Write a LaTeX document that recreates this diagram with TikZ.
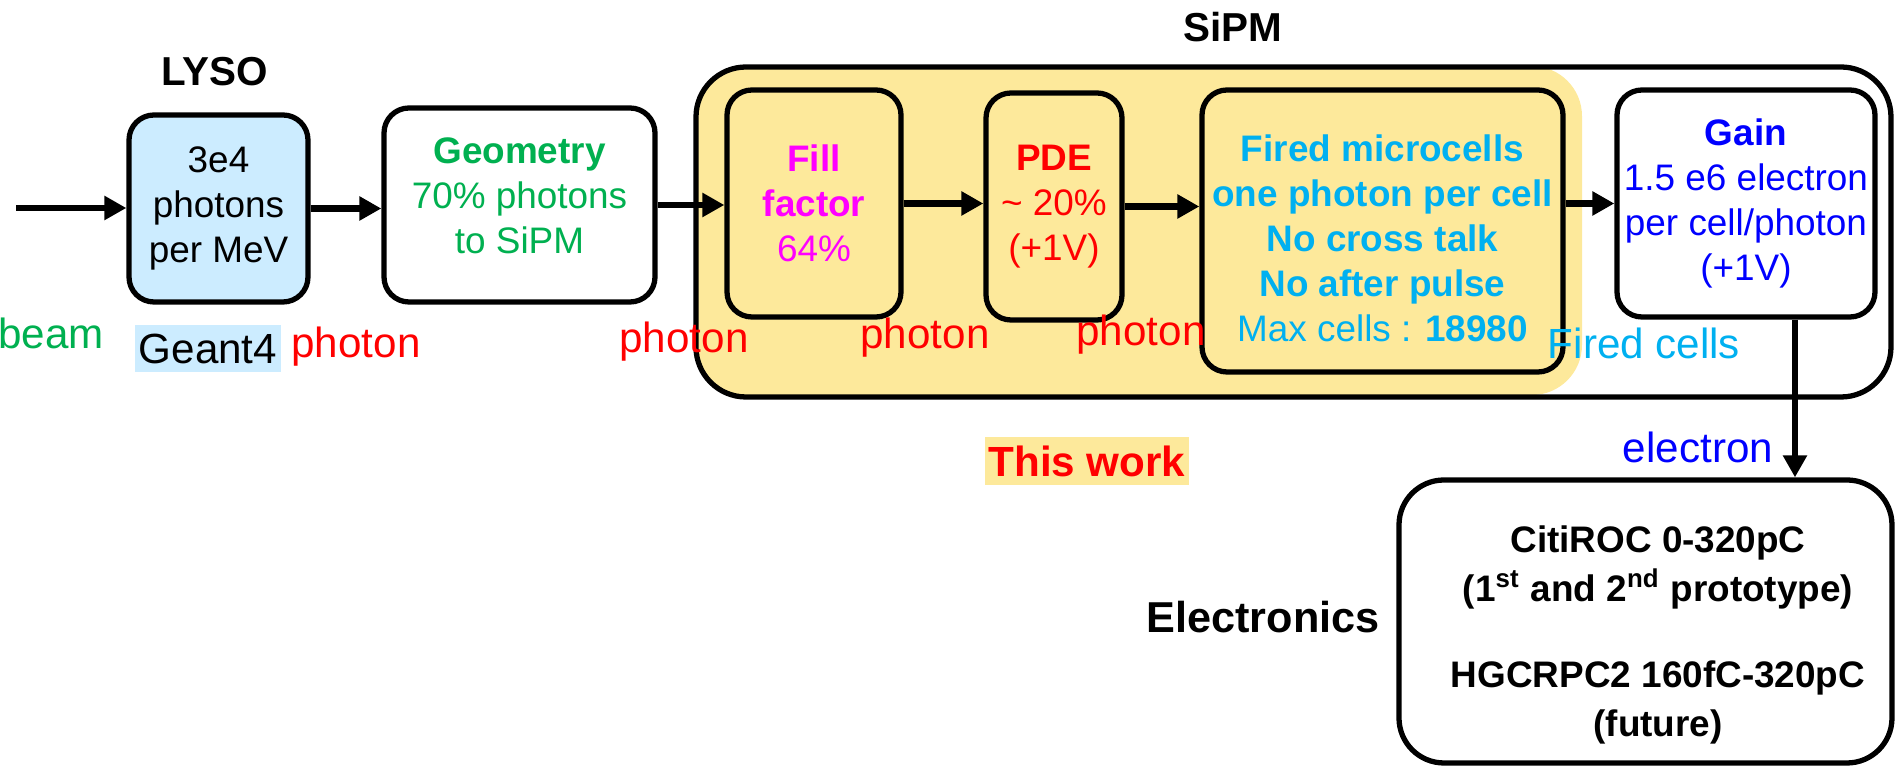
\documentclass[tikz,border=0pt]{standalone}
\usepackage{fontspec}
\setmainfont{Liberation Sans}
\usetikzlibrary{arrows.meta, positioning, calc, backgrounds}
\definecolor{lysoblue}{RGB}{204,236,255}
\definecolor{workyel}{RGB}{253,233,155}
\definecolor{beamgreen}{RGB}{0,176,80}
\definecolor{cellcyan}{RGB}{0,176,240}
\definecolor{fillmag}{RGB}{255,0,255}
\definecolor{pdered}{RGB}{255,0,0}
\definecolor{gainblue}{RGB}{0,0,255}
\tikzset{
  blk/.style={rectangle, rounded corners=2.5mm, draw=black, line width=1.5pt,
              align=center, inner sep=0pt, font=\fontsize{10.5}{12.8}\selectfont},
  grp/.style={rectangle, rounded corners=5mm, draw=black, line width=1.5pt, inner sep=0pt},
  ttl/.style={font=\fontsize{11.5}{14}\selectfont\bfseries, inner sep=1pt},
  lbl/.style={font=\fontsize{12}{14}\selectfont, inner sep=1pt},
  flow/.style={line width=1.85pt, -{Triangle[length=2.2mm, width=2.3mm]}},
}

\begin{document}
\begin{tikzpicture}
\useasboundingbox (0,0) rectangle (18.95,-7.66);

\node[grp, minimum width=11.95cm, minimum height=3.30cm] (sipm) at (12.935,-2.32) {};
\coordinate (yelend) at (15.82,-3.95);
\begin{scope}[on background layer]
  \fill[workyel, rounded corners=5mm] ([xshift=0.5pt,yshift=-0.5pt]sipm.north west) rectangle (yelend);
\end{scope}

\node[ttl] (lysottl) at (2.15,-0.72) {LYSO};
\node[ttl] (sipmttl) at (12.33,-0.27) {SiPM};

\node[blk, fill=lysoblue, minimum width=1.79cm, minimum height=1.87cm] (lyso) at (2.185,-2.085)
  {3e4\\photons\\per MeV};
\node[blk, fill=white, text=beamgreen, minimum width=2.71cm, minimum height=1.94cm] (geom) at (5.195,-2.05)
  {\textbf{Geometry}\\70\% photons\\to SiPM\rule[-0.18cm]{0pt}{0.18cm}};
\node[blk, fill=workyel, text=fillmag, minimum width=1.74cm, minimum height=2.27cm] (fillf) at (8.14,-2.035)
  {\textbf{Fill}\\\textbf{factor}\\64\%};
\node[blk, fill=workyel, text=pdered, minimum width=1.36cm, minimum height=2.27cm] (pde) at (10.54,-2.065)
  {\textbf{PDE}\\\textasciitilde{} 20\%\\(+1V)};
\node[blk, fill=workyel, text=cellcyan, minimum width=3.61cm, minimum height=2.82cm] (fired) at (13.825,-2.31)
  {\rule{0pt}{0.42cm}\textbf{Fired microcells}\\\textbf{one photon per cell}\\\textbf{No cross talk}\\\textbf{No after pulse}\\Max cells : \textbf{18980}};
\node[blk, fill=white, text=gainblue, minimum width=2.58cm, minimum height=2.27cm] (gain) at (17.46,-2.035)
  {\textbf{Gain}\\1.5 e6 electron\\per cell/photon\\(+1V)};

\node[blk, rounded corners=4.5mm, minimum width=4.93cm, minimum height=2.83cm] (elec) at (16.455,-6.215) {};
\node[align=center, inner sep=0pt, font=\fontsize{10.5}{13.9}\selectfont\bfseries] (electxt) at (16.58,-6.35)
  {CitiROC 0-320pC\\(1\textsuperscript{st} and 2\textsuperscript{nd} prototype)\\[1em]HGCRPC2 160fC-320pC\\(future)};
\node[ttl, font=\fontsize{12.3}{15}\selectfont\bfseries] (electtl) at (12.63,-6.17) {Electronics};

\coordinate (beamstart) at (0.16,-2.08);
\draw[flow] (beamstart) -- (beamstart -| lyso.west);
\draw[flow] (lyso.east) -- (lyso.east -| geom.west);
\draw[flow] (geom.east) -- (geom.east -| fillf.west);
\draw[flow] (fillf.east) -- (fillf.east -| pde.west);
\draw[flow] (pde.east) -- (pde.east -| fired.west);
\draw[flow] (gain.west -| fired.east) -- (gain.west);
\coordinate (edrop) at ($(gain.south)+(0.49,0)$);
\draw[flow] (edrop) -- (edrop |- elec.north);

\node[lbl, text=beamgreen] (beamlbl) at (0.51,-3.33) {beam};
\node[lbl, fill=lysoblue, minimum height=0.47cm] (g4lbl) at (2.08,-3.485) {Geant4};
\node[lbl, text=pdered] (ph1) at (3.56,-3.47) {photon};
\node[lbl, text=pdered] (ph2) at (6.84,-3.42) {photon};
\node[lbl, text=pdered] (ph3) at (9.25,-3.38) {photon};
\node[lbl, text=pdered] (ph4) at (11.41,-3.35) {photon};
\node[lbl, text=cellcyan] (firedlbl) at (16.44,-3.43) {Fired cells};
\node[lbl, text=gainblue] (eleclbl) at (16.98,-4.47) {electron};
\node[lbl, font=\fontsize{12}{14}\selectfont\bfseries, text=pdered, fill=workyel,
      minimum width=1.98cm, minimum height=0.48cm] (thiswork) at (10.87,-4.61) {This work};

\end{tikzpicture}
\end{document}
